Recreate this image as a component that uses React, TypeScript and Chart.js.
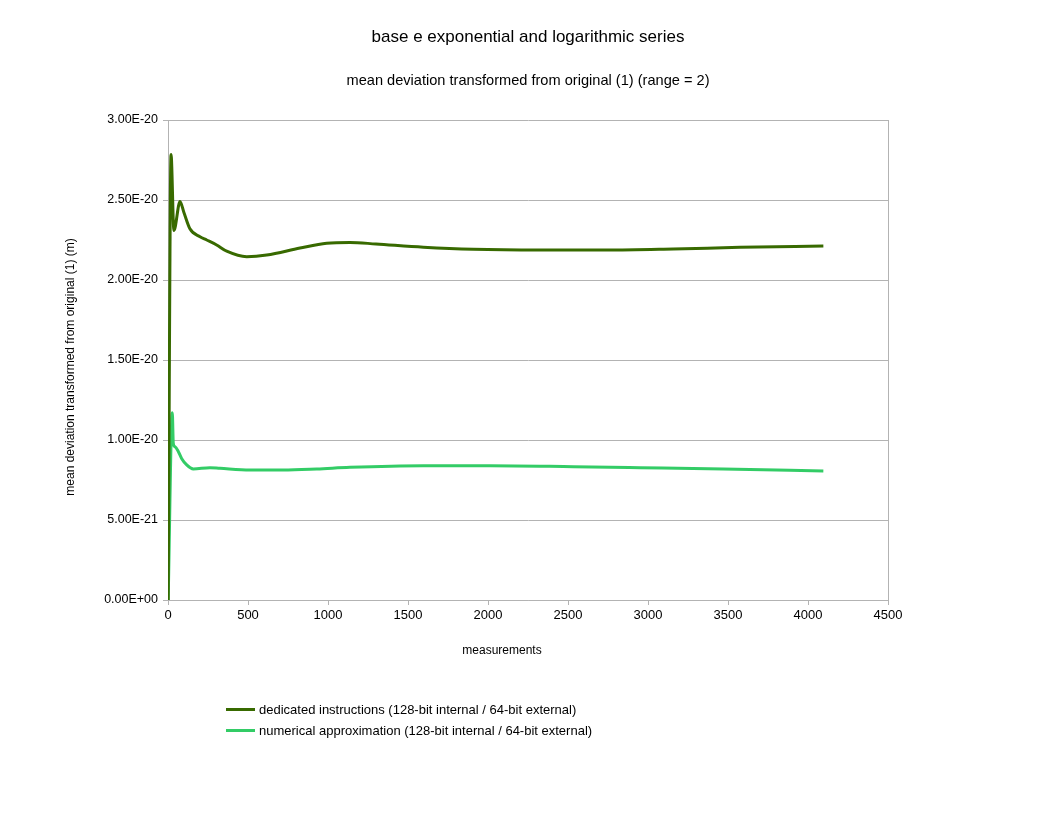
import React, { useEffect, useRef } from "react";
import { Chart, registerables } from "chart.js";

Chart.register(...registerables);

const TITLE = "base e exponential and logarithmic series";
const SUBTITLE = "mean deviation transformed from original (1) (range = 2)";
const X_TITLE = "measurements";
const Y_TITLE = "mean deviation transformed from original (1) (m)";

const SERIES_NAMES = [
  "dedicated instructions (128-bit internal / 64-bit external)",
  "numerical approximation (128-bit internal / 64-bit external)",
];
const SERIES_COLORS = ["#386a00", "#33cc66"];

const darkX = [1, 19, 37, 75, 100, 137, 200, 242, 304, 367, 492, 617, 825, 992, 1137, 1300, 1596, 1908, 2325, 2742, 3158, 3575, 4096];
const darkY = [0, 2.785e-20, 2.31e-20, 2.49e-20, 2.42e-20, 2.32e-20, 2.27e-20, 2.25e-20, 2.219e-20, 2.18e-20, 2.146e-20, 2.156e-20, 2.2e-20, 2.23e-20, 2.235e-20, 2.225e-20, 2.205e-20, 2.192e-20, 2.1875e-20, 2.1875e-20, 2.194e-20, 2.204e-20, 2.2125e-20];

const lightX = [1, 27, 33, 44, 65, 85, 117, 158, 262, 325, 512, 720, 930, 1137, 1596, 2012, 2533, 2950, 3471, 4096];
const lightY = [0, 1.17e-20, 0.98e-20, 0.958e-20, 0.927e-20, 0.885e-20, 0.844e-20, 0.819e-20, 0.827e-20, 0.823e-20, 0.8125e-20, 0.8125e-20, 0.819e-20, 0.829e-20, 0.839e-20, 0.839e-20, 0.833e-20, 0.827e-20, 0.819e-20, 0.806e-20];

const X_MIN = 0;
const X_MAX = 4500;
const X_STEP = 500;
const Y_MIN = 0;
const Y_MAX = 3e-20;
const Y_STEP = 0.5e-20;

const FONT = "'Liberation Sans', Arial, sans-serif";
const GRID = "#b3b3b3";

function fmtExp(v: number): string {
  if (Math.abs(v) < 1e-35) v = 0;
  const [m, e] = v.toExponential(2).split("e");
  const sign = e[0] === "-" ? "-" : "+";
  const digits = e.replace(/^[+-]/, "").padStart(2, "0");
  return `${m}E${sign}${digits}`;
}

const decorPlugin = {
  id: "decor",
  afterDraw(chart: any) {
    const { ctx, chartArea } = chart;
    ctx.save();
    ctx.fillStyle = "#000";
    ctx.textAlign = "center";
    ctx.textBaseline = "middle";
    ctx.font = `17px ${FONT}`;
    ctx.fillText(TITLE, 528, 37);
    ctx.font = `14.6px ${FONT}`;
    ctx.fillText(SUBTITLE, 528, 81);
    ctx.font = `12px ${FONT}`;
    ctx.fillText(X_TITLE, 502, 651);
    ctx.save();
    ctx.translate(71, 367);
    ctx.rotate(-Math.PI / 2);
    ctx.fillText(Y_TITLE, 0, 0);
    ctx.restore();
    // right border of plot area
    ctx.strokeStyle = GRID;
    ctx.lineWidth = 1;
    ctx.beginPath();
    ctx.moveTo(Math.round(chartArea.right) + 0.5, chartArea.top);
    ctx.lineTo(Math.round(chartArea.right) + 0.5, chartArea.bottom);
    ctx.stroke();
    // legend
    ctx.font = `13px ${FONT}`;
    ctx.textAlign = "left";
    SERIES_NAMES.forEach((name, i) => {
      const y = 709.5 + i * 21;
      ctx.strokeStyle = SERIES_COLORS[i];
      ctx.lineWidth = 3;
      ctx.beginPath();
      ctx.moveTo(226, y);
      ctx.lineTo(255, y);
      ctx.stroke();
      ctx.fillStyle = "#000";
      ctx.fillText(name, 259, y + 0.5);
    });
    ctx.restore();
  },
};

export default function App() {
  const ref = useRef<HTMLCanvasElement | null>(null);
  useEffect(() => {
    document.body.style.margin = "0";
    if (!ref.current) return;
    const chart = new Chart(ref.current, {
      type: "line",
      data: {
        datasets: [
          {
            label: SERIES_NAMES[0],
            data: darkX.map((x, i) => ({ x, y: darkY[i] })),
            borderColor: SERIES_COLORS[0],
            backgroundColor: SERIES_COLORS[0],
            borderWidth: 3,
            pointRadius: 0,
            cubicInterpolationMode: "monotone",
            fill: false,
          },
          {
            label: SERIES_NAMES[1],
            data: lightX.map((x, i) => ({ x, y: lightY[i] })),
            borderColor: SERIES_COLORS[1],
            backgroundColor: SERIES_COLORS[1],
            borderWidth: 3,
            pointRadius: 0,
            cubicInterpolationMode: "monotone",
            fill: false,
          },
        ],
      },
      options: {
        animation: false,
        responsive: true,
        maintainAspectRatio: false,
        layout: { padding: { left: 0, right: 168, top: 120, bottom: 186 } },
        plugins: {
          legend: { display: false },
          title: { display: false },
          tooltip: { enabled: false },
        },
        scales: {
          x: {
            type: "linear",
            min: X_MIN,
            max: X_MAX,
            afterFit: (s: any) => {
              s.height = 30;
            },
            ticks: {
              stepSize: X_STEP,
              color: "#000",
              font: { family: FONT, size: 13 },
              padding: 3,
              maxRotation: 0,
              callback: (v: any) => String(v),
            },
            grid: {
              drawOnChartArea: false,
              tickLength: 5,
              color: GRID,
              tickColor: GRID,
            },
            border: { color: GRID },
          },
          y: {
            type: "linear",
            min: Y_MIN,
            max: Y_MAX,
            afterFit: (s: any) => {
              s.width = 168;
            },
            ticks: {
              stepSize: Y_STEP,
              color: "#000",
              font: { family: FONT, size: 12.5 },
              padding: 5,
              callback: (v: any) => fmtExp(Number(v)),
            },
            grid: {
              color: GRID,
              tickColor: GRID,
              tickLength: 5,
            },
            border: { color: GRID },
          },
        },
      },
      plugins: [decorPlugin],
    });
    return () => chart.destroy();
  }, []);
  return (
    <div style={{ position: "absolute", left: 0, top: 0, width: 1056, height: 816, background: "#fff" }}>
      <canvas ref={ref} />
    </div>
  );
}
